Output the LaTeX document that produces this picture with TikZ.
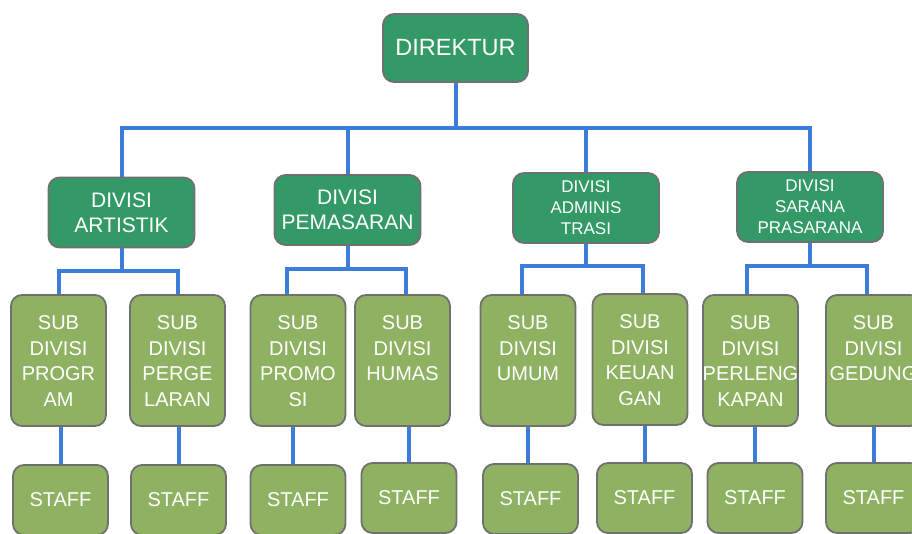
\documentclass[tikz,border=0pt]{standalone}
\usepackage{fontspec}
\setmainfont{Liberation Sans}
\definecolor{dgreen}{HTML}{339966}
\definecolor{olive}{HTML}{8EB162}
\definecolor{bordergrey}{HTML}{707070}
\definecolor{lineblue}{HTML}{3C7DD9}
\newcommand\subtxt[1]{\parbox[c][131pt][t]{95pt}{\centering\fontsize{20pt}{25.5pt}\selectfont\vspace*{21pt}#1\par}}
\tikzset{
  box/.style={draw=bordergrey, line width=1.8pt, rounded corners=11pt, text=white, inner sep=0pt},
  topbox/.style={box, fill=dgreen, minimum width=146pt, minimum height=70pt, align=center},
  divbig/.style={topbox, font=\fontsize{21pt}{25pt}\selectfont},
  divsmall/.style={topbox, font=\fontsize{17pt}{21pt}\selectfont},
  subbox/.style={box, fill=olive, minimum width=95pt, minimum height=131pt},
  staffbox/.style={box, fill=olive, minimum width=95pt, minimum height=70pt, font=\fontsize{20pt}{24pt}\selectfont},
  conn/.style={draw=lineblue, line width=4pt}
}
\begin{document}
\begin{tikzpicture}[x=1pt,y=-1pt]
\clip (0,0) rectangle (912,533);
\fill[white] (0,0) rectangle (912,533);
% top
\node[topbox, minimum width=145pt, minimum height=68pt, font=\fontsize{23.5pt}{28pt}\selectfont] (direktur) at (455.5,48) {DIREKTUR};
% divisions
\node[divbig] (artistik) at (121.5,212.5) {DIVISI\\ARTISTIK};
\node[divbig] (pemasaran) at (347.5,210) {DIVISI\\PEMASARAN};
\node[divsmall] (admin) at (586,208) {DIVISI\\ADMINIS\\TRASI};
\node[divsmall] (sarana) at (810,207) {DIVISI\\SARANA\\PRASARANA};
% sub divisions
\node[subbox] (program) at (58.5,360.5) {\subtxt{SUB\\DIVISI\\PROGR\\AM}};
\node[subbox] (pergelaran) at (177.5,360.5) {\subtxt{SUB\\DIVISI\\PERGE\\LARAN}};
\node[subbox] (promosi) at (298,360.5) {\subtxt{SUB\\DIVISI\\PROMO\\SI}};
\node[subbox] (humas) at (402.5,360.5) {\subtxt{SUB\\DIVISI\\HUMAS}};
\node[subbox] (umum) at (528,360.5) {\subtxt{SUB\\DIVISI\\UMUM}};
\node[subbox] (keuangan) at (640,359.5) {\subtxt{SUB\\DIVISI\\KEUAN\\GAN}};
\node[subbox] (perlengkapan) at (750.5,360.5) {\subtxt{SUB\\DIVISI\\\makebox[0pt]{PERLENG}\\KAPAN}};
\node[subbox] (gedung) at (873.5,360.5) {\subtxt{SUB\\DIVISI\\GEDUNG}};
% staff
\node[staffbox] (s1) at (60.5,500) {STAFF};
\node[staffbox] (s2) at (178.5,500) {STAFF};
\node[staffbox] (s3) at (298,500) {STAFF};
\node[staffbox] (s4) at (409,498) {STAFF};
\node[staffbox] (s5) at (530.5,499) {STAFF};
\node[staffbox] (s6) at (644.5,498) {STAFF};
\node[staffbox] (s7) at (755,498) {STAFF};
\node[staffbox] (s8) at (873.5,498) {STAFF};
% connectors level 1
\coordinate (topbar) at (455.5,128);
\draw[conn] (direktur.south) -- (topbar);
\draw[conn] (artistik.north) |- (topbar) -| (sarana.north);
\draw[conn] (pemasaran.north) -- (pemasaran.north |- topbar);
\draw[conn] (admin.north) -- (admin.north |- topbar);
% connectors level 2
\draw[conn] (artistik.south) -- ++(0,23) coordinate (ab);
\draw[conn] (program.north) |- (ab) -| (pergelaran.north);
\draw[conn] (pemasaran.south) -- ++(0,23) coordinate (pb);
\draw[conn] ([xshift=-11pt]promosi.north) |- (pb) -| ([xshift=3.5pt]humas.north);
\draw[conn] (admin.south) -- ++(0,22) coordinate (db);
\draw[conn] ([xshift=-6pt]umum.north) |- (db) -| ([xshift=3pt]keuangan.north);
\draw[conn] (sarana.south) -- ++(0,23) coordinate (sb);
\draw[conn] ([xshift=-3.5pt]perlengkapan.north) |- (sb) -| ([xshift=-6.5pt]gedung.north);
% connectors level 3
\draw[conn] (s1.north) -- (s1.north |- program.south);
\draw[conn] (s2.north) -- (s2.north |- pergelaran.south);
\draw[conn] ([xshift=-5pt]s3.north) -- ([xshift=-5pt]s3.north |- promosi.south);
\draw[conn] (s4.north) -- (s4.north |- humas.south);
\draw[conn] (umum.south) -- (umum.south |- s5.north);
\draw[conn] (s6.north) -- (s6.north |- keuangan.south);
\draw[conn] (s7.north) -- (s7.north |- perlengkapan.south);
\draw[conn] (gedung.south) -- (gedung.south |- s8.north);
\end{tikzpicture}
\end{document}
